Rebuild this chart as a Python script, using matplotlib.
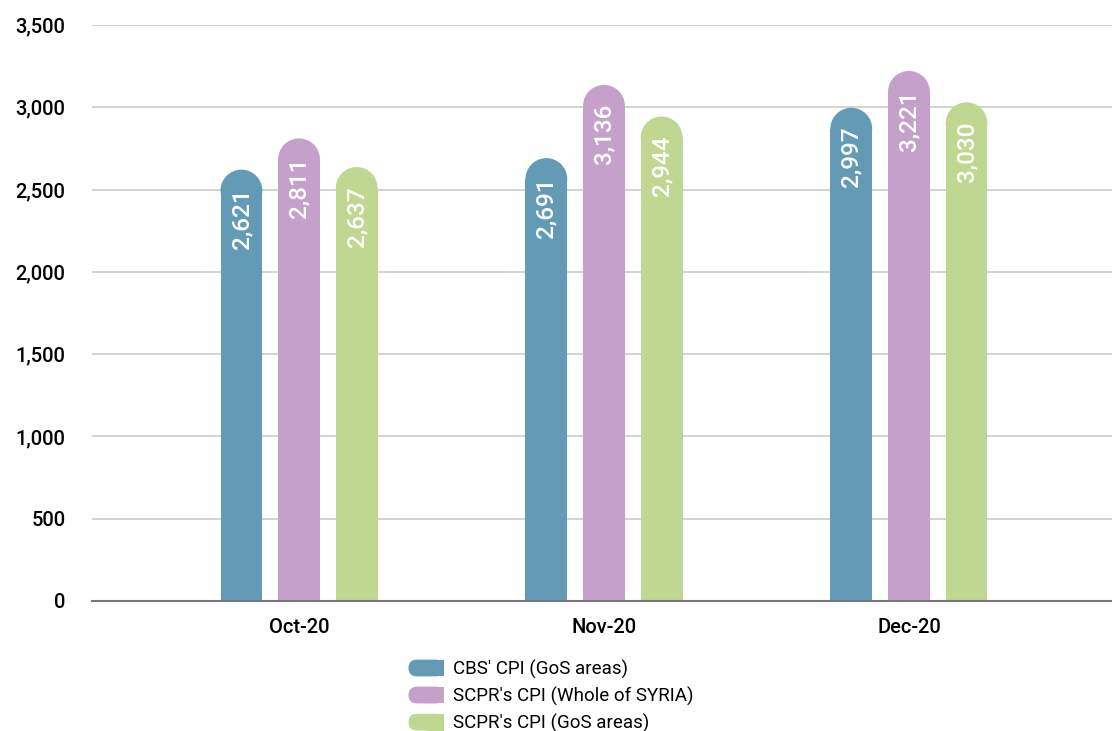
import matplotlib.pyplot as plt
from matplotlib.patches import Rectangle, Ellipse, FancyBboxPatch
from matplotlib.legend_handler import HandlerPatch

plt.rcParams['font.family'] = ['Roboto', 'DejaVu Sans']

months = ["Oct-20", "Nov-20", "Dec-20"]
series_names = ["CBS' CPI (GoS areas)", "SCPR's CPI (Whole of SYRIA)", "SCPR's CPI (GoS areas)"]
cbs_gos = [2621, 2691, 2997]
scpr_syria = [2811, 3136, 3221]
scpr_gos = [2637, 2944, 3030]
yticks = [0, 500, 1000, 1500, 2000, 2500, 3000, 3500]

colors = ["#639ab5", "#c4a0ca", "#c0d791"]
series = [cbs_gos, scpr_syria, scpr_gos]

W, H, DPI = 1112, 731, 100
fig = plt.figure(figsize=(W / DPI, H / DPI), dpi=DPI)
ax_l, ax_b, ax_t = 92 / W, 1 - 601 / H, 1 - 25 / H
ax = fig.add_axes([ax_l, ax_b, 1 - ax_l, ax_t - ax_b])

ymax = 3500
ax.set_ylim(0, ymax)
ax.set_xlim(-0.679, 2.666)

bar_w = 0.137
offset = 0.189
# radius of the rounded top in data units
ax_h_px = (ax_t - ax_b) * H
r_px = bar_w * (W * (1 - ax_l)) / (2.666 + 0.679) / 2
ry = r_px * ymax / ax_h_px

for j, vals in enumerate(series):
    for i, v in enumerate(vals):
        x = i + (j - 1) * offset
        ax.add_patch(Rectangle((x - bar_w / 2, 0), bar_w, v - ry,
                               facecolor=colors[j], edgecolor="none", zorder=3))
        ax.add_patch(Ellipse((x, v - ry), bar_w, 2 * ry,
                             facecolor=colors[j], edgecolor="none", zorder=3))
        ax.text(x, v - 19 * ymax / ax_h_px, f"{v:,}", rotation=90,
                ha="center", va="top", color="white", fontsize=17.5,
                fontweight="medium", zorder=4)

ax.set_yticks(yticks)
ax.set_yticklabels([f"{t:,}" for t in yticks], fontsize=14.5, fontweight="medium")
ax.set_xticks(range(len(months)))
ax.set_xticklabels(months, fontsize=14.5, fontweight="medium")
ax.tick_params(axis="y", length=0, pad=19)
ax.tick_params(axis="x", length=0, pad=12)
ax.grid(axis="y", color="#c8c8c8", linewidth=1.1, zorder=0)
for s in ["top", "right", "left"]:
    ax.spines[s].set_visible(False)
ax.spines["bottom"].set_color("#777777")
ax.spines["bottom"].set_linewidth(1.5)
ax.spines["bottom"].set_zorder(5)


class RoundHandler(HandlerPatch):
    def create_artists(self, legend, orig_handle, xdescent, ydescent,
                       width, height, fontsize, trans):
        r = height * 0.5
        p = FancyBboxPatch((-xdescent, -ydescent), width, height,
                           boxstyle="round,pad=0,rounding_size=%f" % r,
                           facecolor=orig_handle.get_facecolor(), edgecolor="none",
                           transform=trans)
        p2 = Rectangle((-xdescent + width * 0.5, -ydescent), width * 0.5, height,
                       facecolor=orig_handle.get_facecolor(), edgecolor="none",
                       transform=trans)
        return [p, p2]


handles = [Rectangle((0, 0), 1, 1, facecolor=c) for c in colors]
fig.legend(handles, series_names, loc="upper left", bbox_to_anchor=(401 / W, 1 - 652 / H),
           frameon=False, fontsize=13.5, handlelength=1.9, handleheight=1.0,
           handletextpad=0.45, labelspacing=0.42, borderaxespad=0,
           handler_map={Rectangle: RoundHandler()})

fig.savefig("out.png", dpi=DPI)
